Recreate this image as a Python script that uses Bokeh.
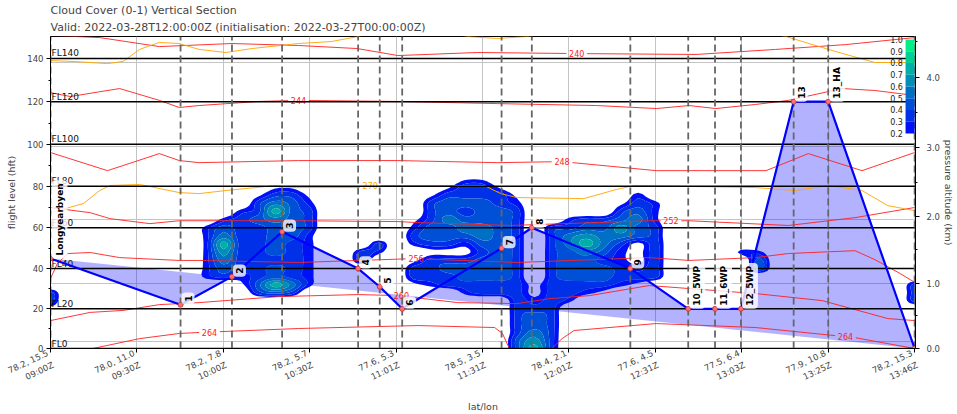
import numpy as np
from bokeh.plotting import figure
from bokeh.models import Range1d, LinearScale, FixedTicker, LogAxis, Title
from bokeh.core.properties import value
from bokeh.embed import file_html
from bokeh.resources import INLINE

FONT = "DejaVu Sans"

# ---------------- data ----------------
title_line1 = "Cloud Cover (0-1) Vertical Section"
title_line2 = "Valid: 2022-03-28T12:00:00Z (initialisation: 2022-03-27T00:00:00Z)"

x_tick_pos = [0, 1, 2, 3, 4, 5, 6, 7, 8, 9, 10]
x_tick_labels = ["78.2, 15.5\n09:00Z", "78.0, 11.0\n09:30Z", "78.2, 7.8\n10:00Z",
                 "78.2, 5.7\n10:30Z", "77.6, 5.3\n11:01Z", "78.5, 3.5\n11:31Z",
                 "78.4, 2.1\n12:01Z", "77.6, 4.5\n12:31Z", "77.5, 6.4\n13:03Z",
                 "77.9, 10.8\n13:25Z", "78.2, 15.3\n13:46Z"]

wp_names = ["Longyearbyen", "1", "2", "3", "4", "5", "6", "7", "8", "9",
            "10_5WP", "11_6WP", "12_5WP", "13", "13_HA", "Longyearbyen"]
wp_x = [0.0, 1.505, 2.10, 2.68, 3.56, 3.81, 4.07, 5.22, 5.57, 6.71,
        7.38, 7.69, 7.99, 8.60, 9.00, 10.0]
wp_fl = [45, 22, 36, 58, 40, 31, 20, 50, 60, 40, 20, 20, 20, 120, 120, 0]

fl_lines = [0, 20, 40, 60, 80, 100, 120, 140]
fl_major = [0, 20, 40, 60, 80, 100, 120, 140]
fl_minor = [10, 30, 50, 70, 90, 110, 130]
km_major = [0, 1, 2, 3, 4]
km_minor = [0.5, 1.5, 2.5, 3.5, 4.5]
hpa_grid = [1000, 900, 800, 700, 600]

# temperature isolines (K): x in tick units, height in FL
iso_240_x = [0, 0.57, 1.26, 2.10, 2.87, 3.55, 4.02, 4.94, 6.09, 7.47, 8.39, 9.20, 10.0]
iso_240_fl = [150.5, 149.5, 145.4, 146.8, 145.9, 144.5, 141.3, 142.7, 142.2, 141.8, 144.1, 146.3, 149.5]
iso_244_x = [0, 0.23, 0.80, 1.26, 1.49, 1.72, 2.41, 2.87, 4.02, 5.17, 6.32, 7.01, 7.39, 7.70, 8.16, 8.54, 9.16, 9.54, 10.0]
iso_244_fl = [124.2, 122.4, 126.1, 120.6, 117.3, 118.2, 120.1, 120.6, 120.1, 119.1, 118.2, 116.8, 118.2, 116.8, 118.7, 120.6, 126.1, 125.2, 122.9]
iso_248_x = [0, 0.66, 1.26, 1.49, 1.72, 2.87, 4.02, 5.17, 5.92, 7.01, 8.28, 8.77, 9.39, 10.0]
iso_248_fl = [96.1, 87.5, 95.6, 92.3, 91.3, 92.3, 92.3, 91.3, 91.8, 87.5, 87.5, 95.6, 87.5, 96.1]
iso_252_x = [0, 0.46, 0.69, 1.15, 1.49, 1.72, 2.87, 4.02, 4.25, 5.32, 6.93, 7.39, 8.54, 9.31, 10.0]
iso_252_fl = [69.8, 67.3, 64.4, 62.0, 63.4, 63.4, 63.4, 63.0, 62.5, 61.1, 63.4, 63.4, 61.1, 64.9, 69.8]
iso_256_x = [0, 0.08, 0.20, 0.46, 0.80, 1.49, 1.72, 2.87, 4.20, 5.40, 6.93, 7.39, 8.16, 8.54, 9.31, 9.54, 9.83, 10.0]
iso_256_fl = [35.1, 42.5, 47.4, 47.9, 45.4, 44.0, 44.0, 43.0, 44.9, 43.0, 45.4, 44.0, 45.4, 47.4, 48.8, 44.4, 37.6, 33.2]
iso_260_x = [0, 0.46, 0.84, 1.26, 1.72, 2.64, 3.56, 4.02, 4.71, 5.40, 5.78, 6.24, 6.93, 7.39, 8.16, 8.93, 9.69, 10.0]
iso_260_fl = [14.1, 18.2, 19.2, 22.1, 23.1, 26.1, 27.1, 26.6, 23.1, 22.6, 25.1, 26.6, 31.6, 30.1, 27.6, 24.1, 15.1, 14.1]
iso_264_x = [0, 0.49, 1.03, 1.49, 1.72, 2.87, 4.25, 5.14, 5.23, 5.31, 5.40, 5.72, 5.80, 5.92, 6.06, 7.01, 8.16, 9.31, 10.0]
iso_264_fl = [-4, 0, 5.0, 7.6, 8.1, 10.1, 11.6, 10.6, 7.6, 0, -3, -3, 0, 5.0, 9.1, 12.6, 10.6, 5.5, 0]
# potential temperature isolines (K)
th_270_x = [0, 0.38, 0.57, 0.69, 1.03, 1.49, 1.72, 2.03, 2.61, 2.79, 3.56, 3.71, 4.56, 5.02, 5.21, 5.40, 6.17, 6.55, 6.75, 7.47, 8.16, 8.62, 9.00, 9.39, 9.69, 10.0]
th_270_fl = [67.3, 71.7, 78.0, 80.4, 80.9, 77.0, 76.5, 78.0, 80.4, 79.4, 79.4, 80.4, 80.4, 80.4, 76.5, 74.6, 74.1, 78.5, 80.4, 79.9, 79.4, 78.0, 80.4, 78.0, 70.7, 68.3]
th_280_x = [0, 0.26, 0.66, 0.84, 1.03, 1.26, 1.49, 1.72, 2.03, 2.33, 2.87, 3.25, 3.56, 3.79, 4.48, 4.83, 5.17, 5.52, 5.86, 8.16, 8.51, 9.08, 9.54, 10.0]
th_280_fl = [139.0, 138.6, 137.6, 138.6, 144.1, 147.3, 146.8, 144.1, 142.7, 144.5, 146.8, 147.7, 150.0, 152.7, 152.7, 150.0, 149.1, 150.0, 152.7, 152.7, 150.0, 143.2, 138.1, 138.1]

# contour label positions (x in tick units)
iso_labels = [("240", 6.09), ("244", 2.87), ("248", 5.92), ("252", 7.18),
              ("256", 4.23), ("260", 4.06), ("264", 1.84), ("264", 9.20), ("270", 3.70)]

# cloud cover (tenths), columns every 0.2 tick units, rows FL 96 (top) ... FL 0 (bottom)
cloud_levels = [0.2, 0.3, 0.4, 0.5, 0.6, 0.7, 0.8, 0.9, 1.0]
cloud_rows = [
    "0000000000 0000000000 0000000000 0000000000 0000000000 0",  # 96
    "0000000000 0000000000 0000000000 0000000000 0000000000 0",  # 92
    "0000000000 0000000000 0000000000 0000000000 0000000000 0",  # 88
    "0000000000 0000000000 0000110000 0000000000 0000000000 0",  # 84
    "0000000000 0001100000 0001331000 0000000000 0000000000 0",  # 80
    "0000000000 0013310000 0013333100 0000200000 0000000000 0",  # 76
    "0000000000 0035420000 0034443200 0001320000 0000000000 0",  # 72
    "0000000000 0237430000 0034344300 0003420000 0000000000 0",  # 68
    "0000000000 2345430000 0135444300 2334520000 0000000000 0",  # 64
    "0000000002 4334430000 0244554303 3446430000 0000000000 0",  # 60
    "0000000002 5334420000 0344454303 5655430000 0000000000 0",  # 56
    "0000000002 7334320003 0233244303 5753130000 0000000000 0",  # 52
    "0000000002 6334320032 0011134303 4542130000 2200000000 0",  # 48
    "0000000002 5333320030 0133344303 4432130000 0400000000 0",  # 44
    "0000000002 4334320000 0334444303 4443230000 0400000000 0",  # 40
    "0000000002 3234320000 0333444303 4443330000 0000000000 0",  # 36
    "0000000000 0147520000 0123333313 3332100000 0000000000 3",  # 32
    "3000000000 0034300000 0000233313 3210000000 0000000000 3",  # 28
    "3000000000 0000000000 0000000323 2000000000 0000000000 3",  # 24
    "1000000000 0000000000 0000000333 0000000000 0000000000 0",  # 20
    "0000000000 0000000000 0000000343 0000000000 0000000000 0",  # 16
    "0000000000 0000000000 0000000343 0000000000 0000000000 0",  # 12
    "0000000000 0000000000 0000000353 0000000000 0000000000 0",  # 8
    "0000000000 0000000000 0000000463 0000000000 0000000000 0",  # 4
    "0000000000 0000000000 0000000473 0000000000 0000000000 0",  # 0
]
cloud_palette = ["#0010f7", "#0030e7", "#0050d7", "#0070c7",
                 "#008fb7", "#00afa7", "#00cf97", "#00ef87"]


# ---------------- helpers ----------------
def fl_to_hpa(fl):
    h = np.asarray(fl, dtype=float) * 30.48
    return 1013.25 * (1.0 - 2.25577e-5 * h) ** 5.25588


def km_to_hpa(km):
    h = np.asarray(km, dtype=float) * 1000.0
    return 1013.25 * (1.0 - 2.25577e-5 * h) ** 5.25588


def with_gaps(xs, ys, centers, half):
    cuts = [(c - half, c + half) for c in centers]
    allx = sorted(set(list(xs)) | set([a for a, b in cuts] + [b for a, b in cuts]))
    ally = np.interp(allx, xs, ys)
    ox, oy = [], []
    for x, y in zip(allx, ally):
        if any(a < x < b for a, b in cuts):
            continue
        ox.append(x)
        oy.append(y)
        if any(abs(x - a) < 1e-9 for a, b in cuts):
            ox.append(np.nan)
            oy.append(np.nan)
    return np.array(ox), np.array(oy)


def smooth_axis(a, f, axis):
    """Catmull-Rom resampling (passes through the grid values) for smoother contours."""
    a = np.moveaxis(a, axis, 0)
    n = a.shape[0]
    t = np.linspace(0, n - 1, (n - 1) * f + 1)
    i = np.clip(np.floor(t).astype(int), 0, n - 2)
    u = (t - i)[:, None]
    g = lambda k: a[np.clip(k, 0, n - 1)]
    p0, p1, p2, p3 = g(i - 1), g(i), g(i + 1), g(i + 2)
    out = 0.5 * ((-u ** 3 + 2 * u ** 2 - u) * p0 + (3 * u ** 3 - 5 * u ** 2 + 2) * p1
                 + (-3 * u ** 3 + 4 * u ** 2 + u) * p2 + (u ** 3 - u ** 2) * p3)
    return np.moveaxis(out, 0, axis)


P_BOTTOM = 1013.25
P_TOP = float(fl_to_hpa(150))

p = figure(width=957, height=414,
           x_range=Range1d(0, 10.01),
           y_range=Range1d(P_BOTTOM, P_TOP),
           y_axis_type="log",
           output_backend="svg", toolbar_location=None,
           min_border_left=50, min_border_right=36,
           min_border_top=36, min_border_bottom=66)
p.extra_x_ranges = {"fx": Range1d(0, 1)}
p.extra_y_ranges = {"fy": Range1d(0, 1)}
p.extra_x_scales = {"fx": LinearScale()}
p.extra_y_scales = {"fy": LinearScale()}
p.background_fill_color = "white"
p.border_fill_color = "white"
p.outline_line_color = "black"
p.outline_line_width = 1

# titles
p.add_layout(Title(text=title_line2, align="left", text_font_size="11px",
                   text_font_style="normal", text_font=FONT, standoff=5), "above")
p.add_layout(Title(text=title_line1, align="left", text_font_size="11px",
                   text_font_style="normal", text_font=FONT, standoff=-1), "above")

# axes
lab = dict(axis_label_text_font=FONT, axis_label_text_font_size="9.5px",
           axis_label_text_font_style="normal", major_label_text_font=FONT,
           major_label_text_font_size="8.5px", axis_line_color="black",
           major_tick_line_color="black", minor_tick_line_color="black",
           major_tick_in=0, major_tick_out=4, minor_tick_in=0, minor_tick_out=2)

yl = p.yaxis[0]
yl.ticker = FixedTicker(ticks=[float(v) for v in fl_to_hpa(fl_major)],
                        minor_ticks=[float(v) for v in fl_to_hpa(fl_minor)])
yl.major_label_overrides = {float(v): str(f) for v, f in zip(fl_to_hpa(fl_major), fl_major)}
yl.axis_label = "flight level (hft)"
yl.major_label_standoff = 3
yl.axis_label_standoff = 7
for k, v in lab.items():
    setattr(yl, k, v)

yr = LogAxis(ticker=FixedTicker(ticks=[float(v) for v in km_to_hpa(km_major)],
                                minor_ticks=[float(v) for v in km_to_hpa(km_minor)]),
             major_label_overrides={float(v): "%.1f" % k for v, k in zip(km_to_hpa(km_major), km_major)},
             axis_label="pressure altitude (km)", major_label_standoff=7, axis_label_standoff=0)
for k, v in lab.items():
    setattr(yr, k, v)
p.add_layout(yr, "right")

xa = p.xaxis[0]
xa.ticker = FixedTicker(ticks=x_tick_pos)
xa.major_label_overrides = {t: s for t, s in zip(x_tick_pos, x_tick_labels)}
xa.major_label_orientation = 25 * np.pi / 180
xa.axis_label = "lat/lon"
for k, v in lab.items():
    setattr(xa, k, v)
xa.major_label_text_font_size = "8.5px"
xa.major_label_text_line_height = 1.3
xa.major_label_standoff = 6
xa.axis_label_standoff = 0
xa.minor_tick_out = 0

# grids
p.xgrid.ticker = FixedTicker(ticks=x_tick_pos)
p.ygrid.ticker = FixedTicker(ticks=hpa_grid)
p.xgrid.grid_line_color = "#c4c4c4"
p.ygrid.grid_line_color = "#c4c4c4"
p.xgrid.grid_line_width = 1
p.ygrid.grid_line_width = 1

# flight track shading (polygon of track vertices)
wp_p = fl_to_hpa(wp_fl)
p.patch(wp_x, wp_p, fill_color="#0000ff", fill_alpha=0.3, line_color=None)

# cloud cover filled contours
z = np.array([[0.0 if ch == "0" else (int(ch) + 0.5) / 10.0 for ch in row.replace(" ", "")]
              for row in reversed(cloud_rows)])
cloud_fl = np.arange(0, 4 * z.shape[0], 4)
cloud_x = np.linspace(0, 10, z.shape[1])
F = 4
zs = np.clip(smooth_axis(smooth_axis(z, F, 1), F, 0), 0, 1)
xs_f = np.linspace(cloud_x[0], cloud_x[-1], zs.shape[1])
fl_f = np.linspace(cloud_fl[0], cloud_fl[-1], zs.shape[0])
p.contour(x=xs_f, y=fl_to_hpa(fl_f), z=zs, levels=cloud_levels,
          fill_color=cloud_palette, line_color=None)

# temperature / theta isolines with inline-label gaps
lines = {"240": (iso_240_x, iso_240_fl, "#ff2020"), "244": (iso_244_x, iso_244_fl, "#ff2020"),
         "248": (iso_248_x, iso_248_fl, "#ff2020"), "252": (iso_252_x, iso_252_fl, "#ff2020"),
         "256": (iso_256_x, iso_256_fl, "#ff2020"), "260": (iso_260_x, iso_260_fl, "#ff2020"),
         "264": (iso_264_x, iso_264_fl, "#ff2020"), "270": (th_270_x, th_270_fl, "#ffa500"),
         "280": (th_280_x, th_280_fl, "#ffa500")}
lab_x, lab_y, lab_t, lab_c = [], [], [], []
for key, (xs, fls, col) in lines.items():
    centers = [c for t, c in iso_labels if t == key]
    gx, gy = with_gaps(xs, fls, centers, 0.12)
    p.line(gx, fl_to_hpa(gy), line_color=col, line_width=1, line_alpha=0.9)
    for c in centers:
        lab_x.append(c)
        lab_y.append(float(fl_to_hpa(np.interp(c, xs, fls))))
        lab_t.append(key)
        lab_c.append(col)
p.text(x=lab_x, y=lab_y, text=lab_t, text_color=lab_c, text_align="center",
       text_baseline="middle", text_font=value(FONT), text_font_size="8px")

# flight level lines
fl_p = fl_to_hpa(fl_lines)
p.segment(x0=[0] * len(fl_lines), x1=[10.01] * len(fl_lines), y0=fl_p, y1=fl_p,
          line_color="black", line_width=1.5)
p.text(x=[0] * len(fl_lines), y=fl_p, text=["FL%d" % f for f in fl_lines],
       x_offset=1, y_offset=0, text_baseline="bottom", text_align="left",
       text_font=value(FONT), text_font_size="9px", text_color="#111111")

# waypoint verticals
p.segment(x0=wp_x, x1=wp_x, y0=[P_BOTTOM] * len(wp_x), y1=[P_TOP] * len(wp_x),
          line_color="#666666", line_width=1.8, line_dash="7 4")

# flight path
p.line(wp_x, wp_p, line_color="#0000ff", line_width=2.2)
p.scatter(wp_x, wp_p, size=5, marker="circle", fill_color="#ff7070",
          line_color="#c03030", line_width=0.8)
p.text(x=wp_x, y=wp_p, text=wp_names, angle=np.pi / 2, text_align="left",
       text_baseline="top", x_offset=1, text_font=value(FONT), text_font_size="9px",
       text_font_style="bold", text_color="black",
       background_fill_color="white", background_fill_alpha=0.8,
       padding=3, border_radius=4)

# colour bar (inset, frame-fraction coordinates)
cb_left, cb_right, cb_bottom, cb_top = 0.9885, 0.9989, 0.6891, 0.9904
span = cb_top - cb_bottom
lv = np.array(cloud_levels)
fr = cb_bottom + (lv - lv[0]) / (lv[-1] - lv[0]) * span
p.quad(left=cb_left, right=cb_right, bottom=fr[:-1], top=fr[1:], fill_color=cloud_palette,
       line_color=None, x_range_name="fx", y_range_name="fy")
p.text(x=[0.9855] * len(lv), y=fr, text=["%.1f" % v for v in lv], text_align="right",
       text_baseline="middle", text_font=value(FONT), text_font_size="8px",
       text_color="#222222", x_range_name="fx", y_range_name="fy")

open("out.html", "w").write(file_html(p, INLINE))
